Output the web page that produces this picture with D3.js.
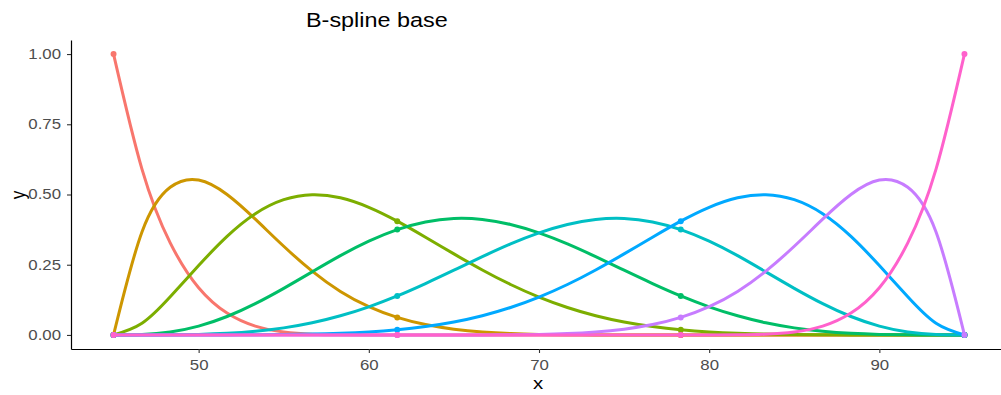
<!DOCTYPE html>
<html>
<head>
<meta charset="utf-8">
<script src="https://cdn.jsdelivr.net/npm/d3@7"></script>
<style>
  html, body { margin: 0; padding: 0; background: #ffffff; }
  svg { display: block; }
  text { font-family: "Liberation Sans", Arial, Helvetica, sans-serif; }
</style>
</head>
<body>
<svg id="chart" width="1001" height="395"></svg>
<script>
// Evaluation grid along x (knots at 45, 61.67, 78.33, 95)
const xValues = [45, 46.67, 48.33, 50, 51.67, 53.33, 55, 56.67, 58.33, 60,
                 61.67, 63.33, 65, 66.67, 68.33, 70, 71.67, 73.33, 75, 76.67,
                 78.33, 80, 81.67, 83.33, 85, 86.67, 88.33, 90, 91.67, 93.33, 95];
const knotValues = [45, 61.67, 78.33, 95];

// Basis functions, one array per function
const basis1 = [1, .5905, .3277, .1681, .0778, .0313, .0102, .0024, .0003, 0,
                0, 0, 0, 0, 0, 0, 0, 0, 0, 0, 0, 0, 0, 0, 0, 0, 0, 0, 0, 0, 0];
const basis2 = [0, .3666, .5256, .5513, .4998, .4121, .3157, .2272, .1549, .1006,
                .0625, .0369, .0205, .0105, .0049, .0020, .0006, .0002, 0, 0,
                0, 0, 0, 0, 0, 0, 0, 0, 0, 0, 0];
const basis3 = [0, .0414, .1357, .2471, .3508, .4315, .4815, .4994, .4883, .4544,
                .4051, .3478, .2885, .2314, .1796, .1348, .0977, .0683, .0460, .0298,
                .0185, .0109, .0061, .0031, .0014, .0006, .0002, 0, 0, 0, 0];
const basis4 = [0, .0015, .0106, .0316, .0657, .1115, .1660, .2245, .2822, .3338,
                .3750, .4024, .4145, .4110, .3932, .3633, .3240, .2786, .2305, .1830,
                .1389, .1002, .0683, .0434, .0252, .0130, .0057, .0019, .0004, 0, 0];
const basis5 = [0, 0, .0004, .0019, .0057, .0130, .0252, .0434, .0683, .1002,
                .1389, .1830, .2305, .2786, .3240, .3633, .3932, .4110, .4145, .4024,
                .3750, .3338, .2822, .2245, .1660, .1115, .0657, .0316, .0106, .0015, 0];
const basis6 = [0, 0, 0, 0, .0002, .0006, .0014, .0031, .0061, .0109,
                .0185, .0298, .0460, .0683, .0977, .1348, .1796, .2314, .2885, .3478,
                .4051, .4544, .4883, .4994, .4815, .4315, .3508, .2471, .1357, .0414, 0];
const basis7 = [0, 0, 0, 0, 0, 0, 0, 0, 0, 0,
                0, 0, 0, .0002, .0006, .0020, .0049, .0105, .0205, .0369,
                .0625, .1006, .1549, .2272, .3157, .4121, .4998, .5513, .5256, .3666, 0];
const basis8 = [0, 0, 0, 0, 0, 0, 0, 0, 0, 0,
                0, 0, 0, 0, 0, 0, 0, 0, 0, 0,
                0, 0, .0003, .0024, .0102, .0313, .0778, .1681, .3277, .5905, 1];

const seriesNames = ["1", "2", "3", "4", "5", "6", "7", "8"];
const seriesColors = ["#F8766D", "#CD9600", "#7CAE00", "#00BE67",
                      "#00BFC4", "#00A9FF", "#C77CFF", "#FF61CC"];
const xTicks = [50, 60, 70, 80, 90];
const yTicks = [0, 0.25, 0.5, 0.75, 1];

const allBasis = [basis1, basis2, basis3, basis4, basis5, basis6, basis7, basis8];
const series = seriesNames.map((name, i) => ({
  name,
  color: seriesColors[i],
  points: xValues.map((x, j) => ({ x, y: allBasis[i][j] }))
}));

const svg = d3.select("#chart");
const textStretch = 1.2;

// Panel with ggplot-style 5% expansion on both axes
const x = d3.scaleLinear().domain([42.5, 97.5]).range([71, 1007]);
const y = d3.scaleLinear().domain([-0.05, 1.05]).range([349, 40]);

const line = d3.line()
  .x(d => x(d.x))
  .y(d => y(d.y))
  .curve(d3.curveNatural);

const plot = svg.append("g");

series.forEach(s => {
  plot.append("path")
    .datum(s.points)
    .attr("fill", "none")
    .attr("stroke", s.color)
    .attr("stroke-width", 3)
    .attr("stroke-linejoin", "round")
    .attr("stroke-linecap", "round")
    .attr("d", line);
  plot.selectAll(null)
    .data(s.points.filter(p => knotValues.includes(p.x)))
    .join("circle")
    .attr("cx", d => x(d.x))
    .attr("cy", d => y(d.y))
    .attr("r", 3)
    .attr("fill", s.color);
});

// Axes (classic theme: lines on left and bottom only)
const xAxis = svg.append("g")
  .attr("transform", `translate(0,${y(-0.05)})`)
  .call(d3.axisBottom(x).tickValues(xTicks).tickSize(4).tickSizeOuter(0).tickPadding(7)
    .tickFormat(d3.format("d")));
const yAxis = svg.append("g")
  .attr("transform", `translate(${x(42.5)},0)`)
  .call(d3.axisLeft(y).tickValues(yTicks).tickSize(4).tickSizeOuter(0).tickPadding(6)
    .tickFormat(d3.format(".2f")));

[xAxis, yAxis].forEach(g => {
  g.select(".domain").attr("stroke", "#000").attr("stroke-width", 1.2);
  g.selectAll(".tick line").attr("stroke", "#333").attr("stroke-width", 1.1);
  g.selectAll(".tick text")
    .attr("fill", "#4D4D4D")
    .style("font-size", "14px")
    .style("font-family", "'Liberation Sans', Arial, sans-serif");
});

// Stretch tick labels horizontally around their anchor
yAxis.selectAll(".tick text").each(function () {
  const t = d3.select(this);
  const px = +t.attr("x");
  t.attr("x", 0).attr("transform", `translate(${px},0) scale(${textStretch},1)`);
});
xAxis.selectAll(".tick text").attr("transform", `scale(${textStretch},1)`);

// Titles
function stretchedText(txt, px, py, size, anchor, color, rotate) {
  const g = svg.append("g").attr("transform", `translate(${px},${py})` + (rotate ? ` rotate(${rotate})` : ""));
  g.append("text")
    .attr("transform", rotate ? `scale(1,${textStretch})` : `scale(${textStretch},1)`)
    .attr("text-anchor", anchor)
    .attr("fill", color)
    .style("font-size", size + "px")
    .text(txt);
}
stretchedText("B-spline base", 306, 27, 19.5, "start", "#000", 0);
stretchedText("x", 538, 389, 17, "middle", "#000", 0);
stretchedText("y", 25, 195, 17, "middle", "#000", -90);
</script>
</body>
</html>
